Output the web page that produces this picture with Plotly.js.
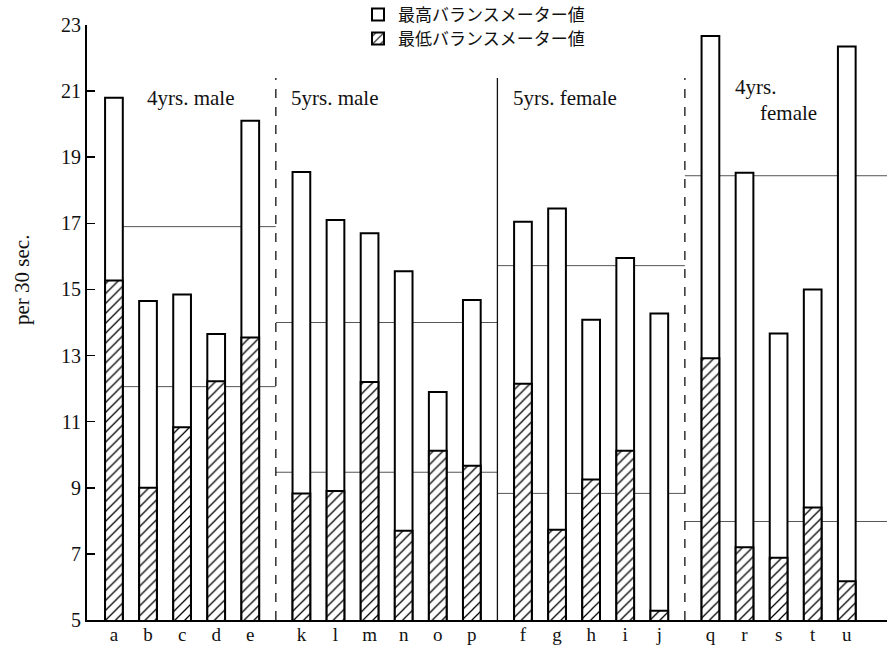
<!DOCTYPE html>
<html>
<head>
<meta charset="utf-8">
<script src="https://cdn.plot.ly/plotly-3.0.1.min.js"></script>
<style>html,body{margin:0;padding:0;background:#fff;}#chart{width:890px;height:648px;}</style>
</head>
<body>
<div id="chart"></div>
<script>
// ---- data ----
const groupLabels = [
  ['a','b','c','d','e'],
  ['k','l','m','n','o','p'],
  ['f','g','h','i','j'],
  ['q','r','s','t','u']
];
const groupNames = ['4yrs. male', '5yrs. male', '5yrs. female', '4yrs.', 'female'];
const maxValues = [20.8, 14.65, 14.85, 13.65, 20.1,
                   18.55, 17.1, 16.7, 15.55, 11.9, 14.68,
                   17.05, 17.45, 14.08, 15.95, 14.27,
                   22.67, 18.53, 13.67, 15.0, 22.35];
const minValues = [15.27, 9.0, 10.83, 12.22, 13.55,
                   8.83, 8.9, 12.2, 7.7, 10.12, 9.67,
                   12.15, 7.73, 9.25, 10.12, 5.28,
                   12.92, 7.2, 6.88, 8.4, 6.17];
const groupMeanMax = [16.9, 14.0, 15.72, 18.44];
const groupMeanMin = [12.06, 9.47, 8.83, 7.98];
const seriesNames = ['最高バランスメーター値', '最低バランスメーター値'];
const yTicks = [5, 7, 9, 11, 13, 15, 17, 19, 21, 23];

// ---- layout of categories (computed) ----
const GAP = 0.5;
const xs = [], labels = [], groupStart = [], groupEnd = [];
let pos = 0;
groupLabels.forEach((g, gi) => {
  if (gi > 0) pos += GAP;
  groupStart.push(pos);
  g.forEach(l => { xs.push(pos); labels.push(l); pos += 1; });
  groupEnd.push(pos - 1);
});
const X0 = -0.79, X1 = 22.68, YTOP_DIV = 21.4;
const dividers = [];
for (let i = 0; i < groupStart.length - 1; i++) dividers.push((groupEnd[i] + groupStart[i + 1]) / 2);

const shapes = [];
groupStart.forEach((s, i) => {
  const left = i === 0 ? s : dividers[i - 1];
  const right = i === groupStart.length - 1 ? X1 : dividers[i];
  [groupMeanMax[i], groupMeanMin[i]].forEach(v => shapes.push({
    type: 'line', layer: 'below', xref: 'x', yref: 'y',
    x0: left, x1: right, y0: v, y1: v,
    line: {color: '#555', width: 1}
  }));
});
dividers.forEach((d, i) => shapes.push({
  type: 'line', layer: 'below', xref: 'x', yref: 'y',
  x0: d, x1: d, y0: 5, y1: YTOP_DIV,
  line: {color: '#111', width: 1.3, dash: i === 1 ? 'solid' : 'dash'}
}));

const serif = 'Liberation Serif, DejaVu Serif, serif';
const traces = [
  {type: 'bar', name: seriesNames[0], x: xs, y: maxValues, width: 0.52, legend: 'legend',
   marker: {color: '#fff', line: {color: '#000', width: 2}}},
  {type: 'bar', name: seriesNames[1], x: xs, y: minValues, width: 0.52, legend: 'legend2',
   marker: {color: '#fff', line: {color: '#000', width: 2},
            pattern: {shape: '/', fgcolor: '#000', bgcolor: '#fff', size: 7, solidity: 0.18}}}
];

const annX = px => (px - 87) / 800, annY = py => (620 - py) / 595;
const annotations = [
  {text: groupNames[0], x: annX(190), y: annY(98), xanchor: 'center'},
  {text: groupNames[1], x: annX(334), y: annY(98), xanchor: 'center'},
  {text: groupNames[2], x: annX(565), y: annY(98), xanchor: 'center'},
  {text: groupNames[3], x: annX(733), y: annY(87), xanchor: 'left'},
  {text: groupNames[4], x: annX(758), y: annY(113), xanchor: 'left'},
  {text: 'per 30 sec.', x: annX(22), y: annY(280), xanchor: 'center', textangle: -90}
].map(a => Object.assign({xref: 'paper', yref: 'paper', yanchor: 'middle', showarrow: false,
  font: {family: serif, size: 21, color: '#111'}}, a));

const legendFont = {family: 'Noto Sans CJK JP, sans-serif', size: 17, color: '#111'};
const layout = {
  width: 890, height: 648,
  margin: {l: 87, r: 3, t: 25, b: 28, autoexpand: false},
  paper_bgcolor: '#fff', plot_bgcolor: '#fff',
  barmode: 'overlay',
  showlegend: true,
  legend: {x: annX(358), y: annY(15), xanchor: 'left', yanchor: 'middle',
           bgcolor: 'rgba(0,0,0,0)', font: legendFont},
  legend2: {x: annX(358), y: annY(39), xanchor: 'left', yanchor: 'middle',
           bgcolor: 'rgba(0,0,0,0)', font: legendFont},
  xaxis: {range: [X0, X1], tickmode: 'array', tickvals: xs, ticktext: labels,
          showline: true, linecolor: '#000', linewidth: 2, ticks: '', showgrid: false, zeroline: false,
          ticklabelstandoff: -4,
          tickfont: {family: serif, size: 19, color: '#111'}, fixedrange: true},
  yaxis: {range: [5, 23], tickmode: 'array', tickvals: yTicks, ticktext: yTicks.map(String),
          showline: true, linecolor: '#000', linewidth: 2, ticks: 'inside', ticklen: 8, tickwidth: 1.5,
          tickcolor: '#000', showgrid: false, zeroline: false,
          tickfont: {family: serif, size: 20, color: '#111'}},
  shapes: shapes,
  annotations: annotations
};
Plotly.newPlot('chart', traces, layout, {displayModeBar: false, staticPlot: true});
</script>
</body>
</html>
